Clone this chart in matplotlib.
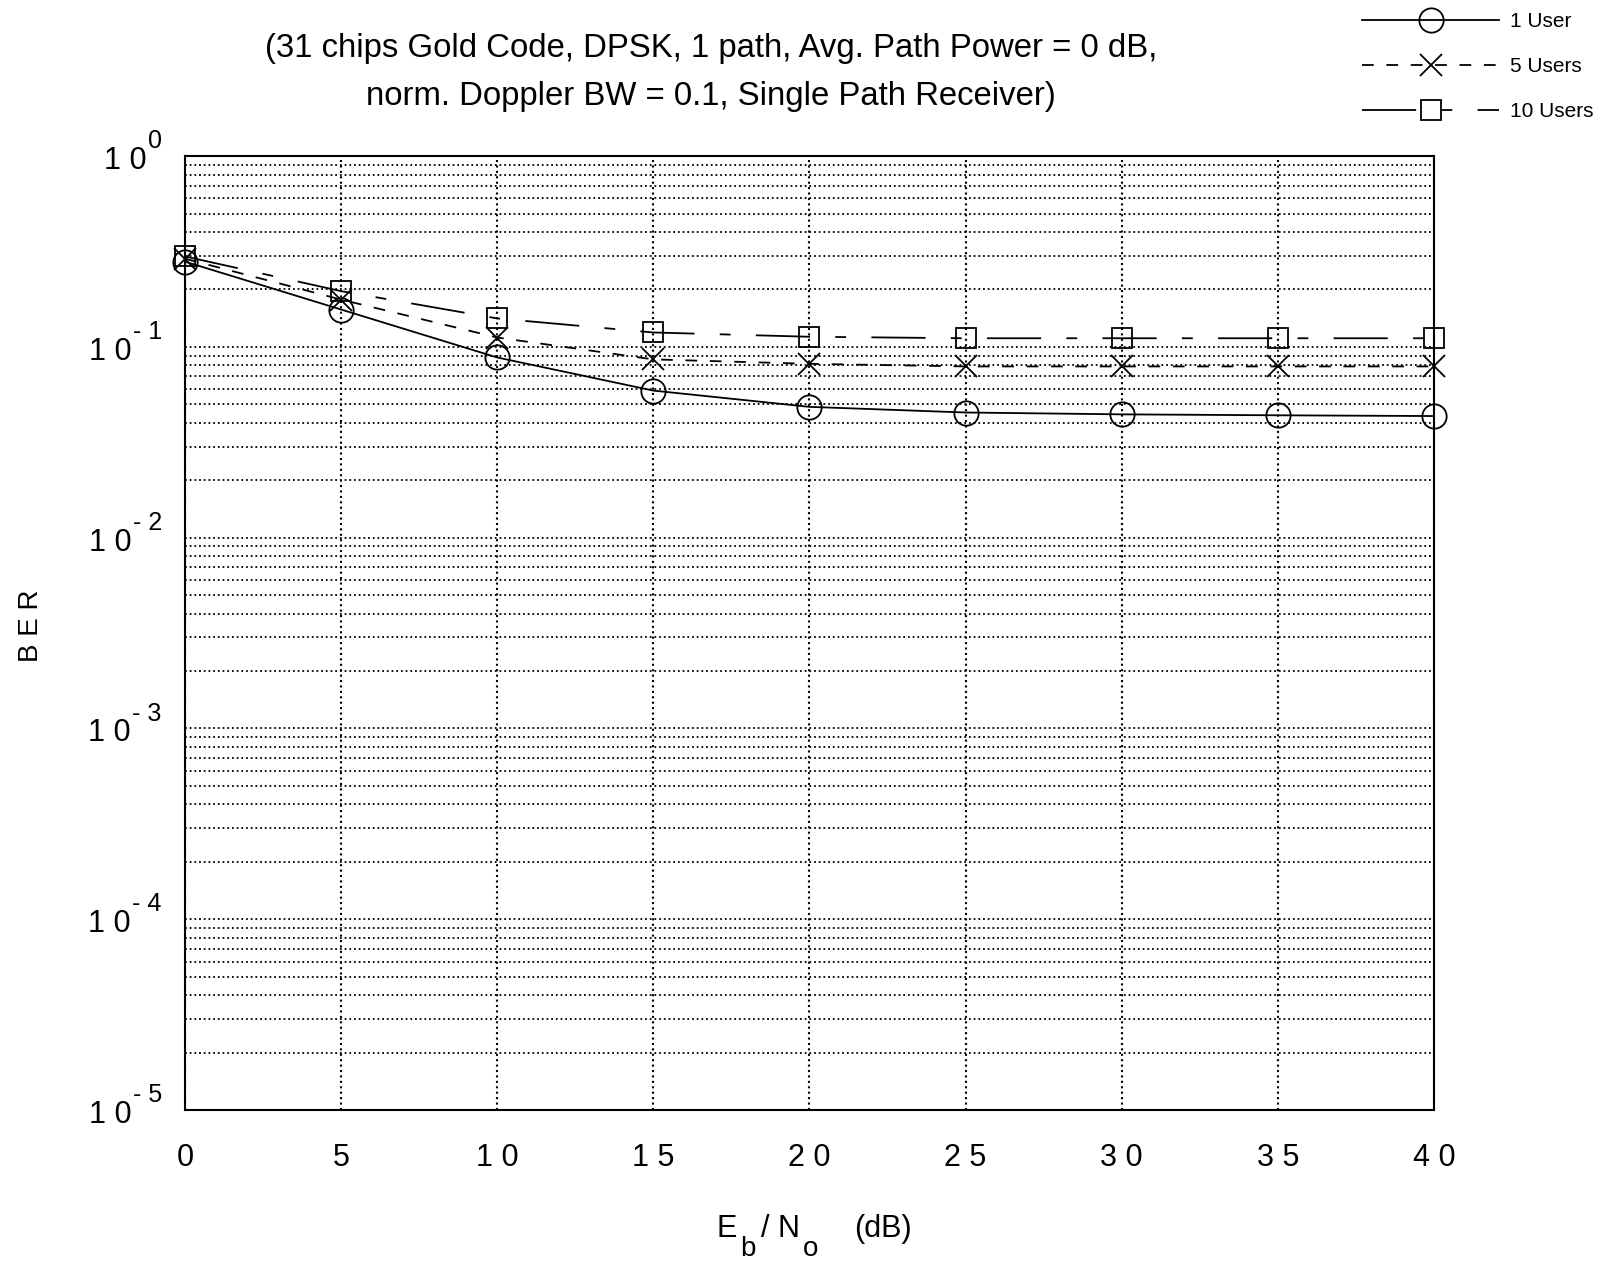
import numpy as np
import matplotlib.pyplot as plt
from matplotlib.ticker import FixedLocator, LogLocator, NullFormatter

plt.rcParams['font.family'] = ['Liberation Sans', 'DejaVu Sans']

# BER vs Eb/No
ebno = [0, 5, 10, 15, 20, 25, 30, 35, 40]
ber_1user = [0.280, 0.157, 0.088, 0.059, 0.0485, 0.0453, 0.0443, 0.0438, 0.0434]
ber_5users = [0.290, 0.177, 0.112, 0.086, 0.0815, 0.079, 0.079, 0.079, 0.079]
ber_10users = [0.298, 0.196, 0.141, 0.119, 0.113, 0.111, 0.111, 0.111, 0.111]

x_ticks = [0, 5, 10, 15, 20, 25, 30, 35, 40]
x_ticklabels = ['0', '5', '1 0', '1 5', '2 0', '2 5', '3 0', '3 5', '4 0']
y_exps = [0, -1, -2, -3, -4, -5]
y_exp_labels = ['0', '- 1', '- 2', '- 3', '- 4', '- 5']

title_lines = ['(31 chips Gold Code, DPSK, 1 path, Avg. Path Power = 0 dB,',
               'norm. Doppler BW = 0.1, Single Path Receiver)']

fig = plt.figure(figsize=(16.08, 12.64), dpi=100)
ax = fig.add_axes([0.1150, 0.1218, 0.7768, 0.7547])

lw = 1.3
ax.plot(ebno, ber_1user, color='k', lw=lw, ls='-', marker='o', ms=17.5,
        mfc='none', mec='k', mew=lw, clip_on=False, label='1 User')
ax.plot(ebno, ber_5users, color='k', lw=lw, ls=(0, (6.5, 7)), marker='x', ms=16,
        mec='k', mew=lw, clip_on=False, label='5 Users')
ax.plot(ebno, ber_10users, color='k', lw=lw, ls=(0, (30, 14, 6, 14)), marker='s',
        ms=14, mfc='none', mec='k', mew=lw, clip_on=False, label='10 Users')

ax.set_yscale('log')
ax.set_xlim(0, 40)
ax.set_ylim(1e-5, 1)

ax.xaxis.set_major_locator(FixedLocator(x_ticks))
ax.set_xticklabels(x_ticklabels, fontsize=22)
ax.yaxis.set_major_locator(LogLocator(base=10))
ax.yaxis.set_minor_locator(LogLocator(base=10, subs=np.arange(2, 10)))
ax.yaxis.set_major_formatter(NullFormatter())
ax.yaxis.set_minor_formatter(NullFormatter())
ax.tick_params(which='both', length=0)
ax.tick_params(axis='x', pad=24)

dots = (0, (1, 1.6))
ax.grid(True, which='both', axis='y', ls=dots, color='k', lw=1.3)
ax.grid(True, which='major', axis='x', ls=dots, color='k', lw=1.5)
ax.set_axisbelow(True)
for sp in ax.spines.values():
    sp.set_linewidth(1.5)

# decade labels: "1 0" with a near full-size exponent
for e, lab in zip(y_exps, y_exp_labels):
    sup = ax.annotate(lab, xy=(-0.0185, 10.0 ** e), xycoords=('axes fraction', 'data'),
                      xytext=(0, 2), textcoords='offset points', ha='right', va='bottom',
                      fontsize=18, annotation_clip=False)
    ax.annotate('1 0', xy=(0, 10.0 ** e), xycoords=(sup, 'data'),
                xytext=(-1, -3.5), textcoords='offset points', ha='right', va='center',
                fontsize=22, annotation_clip=False)

# axis labels
fig.text(31 / 1608, 1 - 626 / 1264, 'B E R', rotation=90, ha='center', va='center', fontsize=20)
e_txt = fig.text(717 / 1608, 1 - 1237 / 1264, 'E', ha='left', va='baseline', fontsize=22)
b_txt = ax.annotate('b', xy=(1, 0), xycoords=e_txt, xytext=(2, -13),
                    textcoords='offset points', ha='left', va='bottom', fontsize=20,
                    annotation_clip=False)
n_txt = ax.annotate('/ N', xy=(1, 0), xycoords=b_txt, xytext=(4, 13),
                    textcoords='offset points', ha='left', va='bottom', fontsize=22,
                    annotation_clip=False)
o_txt = ax.annotate('o', xy=(1, 0), xycoords=n_txt, xytext=(2, -13),
                    textcoords='offset points', ha='left', va='bottom', fontsize=20,
                    annotation_clip=False)
ax.annotate('(dB)', xy=(1, 0), xycoords=o_txt, xytext=(26, 13),
            textcoords='offset points', ha='left', va='bottom', fontsize=22,
            annotation_clip=False)

fig.text(711 / 1608, 1 - 49 / 1264, title_lines[0], ha='center', va='center', fontsize=23.7)
fig.text(711 / 1608, 1 - 96 / 1264, title_lines[1], ha='center', va='center', fontsize=23.7)

handles, labels = ax.get_legend_handles_labels()
fig.legend(handles, labels, loc='upper left', bbox_to_anchor=(1362 / 1608, 1 - 12 / 1264),
           frameon=False, fontsize=15, handlelength=6.6, handletextpad=0.5,
           labelspacing=1.25, borderpad=0, borderaxespad=0, numpoints=1)

fig.savefig('out.png', dpi=100)
